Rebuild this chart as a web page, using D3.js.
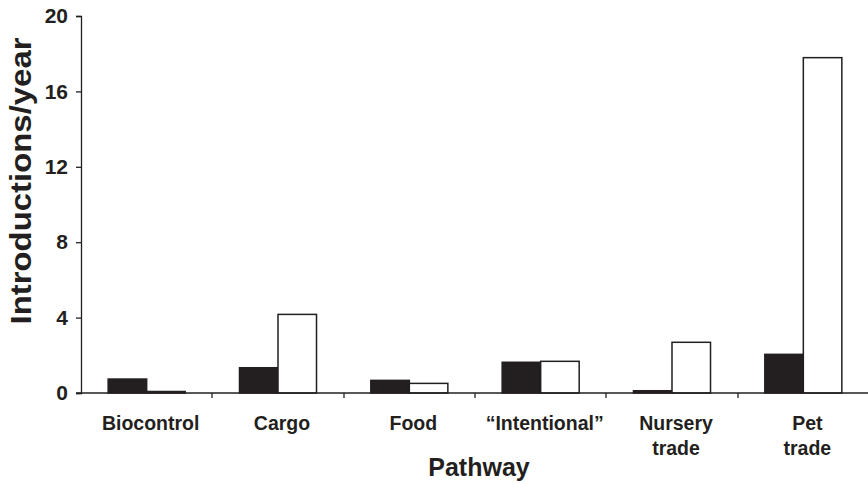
<!DOCTYPE html>
<html>
<head>
<meta charset="utf-8">
<script src="https://cdn.jsdelivr.net/npm/d3@7"></script>
<style>
  body { margin: 0; background: #fff; }
  svg text { font-family: "Liberation Sans", Arial, sans-serif; font-weight: bold; fill: #231f20; }
</style>
</head>
<body>
<svg id="chart" width="868" height="484"></svg>
<script>
const pathways = ['Biocontrol', 'Cargo', 'Food', '\u201cIntentional\u201d', 'Nursery\ntrade', 'Pet\ntrade']
const seriesNames = ['dark', 'light']
const darkValues = [0.74, 1.34, 0.67, 1.63, 0.12, 2.05]
const lightValues = [0.08, 4.17, 0.51, 1.68, 2.69, 17.79]
const yTicks = [0, 4, 8, 12, 16, 20]

const ink = '#231f20'
const margin = { left: 81, right: 0, top: 16, bottom: 91 }
const width = 868, height = 484

let svg = d3.select('#chart')

let x = d3.scaleBand()
  .domain(pathways)
  .range([margin.left, 869])
  .paddingInner(0)
  .paddingOuter(0)

let x1 = d3.scaleBand()
  .domain(seriesNames)
  .range([0, x.bandwidth()])
  .paddingInner(0)
  .paddingOuter(0.705)

let y = d3.scaleLinear()
  .domain([0, 20])
  .range([height - margin.bottom, margin.top])

let rows = pathways.map((p, i) => ({ pathway: p, dark: darkValues[i], light: lightValues[i] }))

// bars
let groups = svg.append('g').selectAll('g')
  .data(rows)
  .enter()
  .append('g')
  .attr('transform', d => 'translate(' + x(d.pathway) + ',0)')

groups.selectAll('rect')
  .data(d => seriesNames.map(s => ({ key: s, value: d[s] })))
  .enter()
  .append('rect')
  .attr('x', d => x1(d.key))
  .attr('width', x1.bandwidth())
  .attr('y', d => y(d.value))
  .attr('height', d => y(0) - y(d.value))
  .attr('fill', d => d.key === 'dark' ? ink : '#fff')
  .attr('stroke', ink)
  .attr('stroke-width', 1.5)

// y axis
let yAxis = svg.append('g')
  .attr('transform', 'translate(' + margin.left + ',0)')
  .call(d3.axisLeft(y).tickValues(yTicks).tickSize(5).tickPadding(8))

yAxis.select('.domain').attr('stroke', ink).attr('stroke-width', 1.3)
yAxis.selectAll('.tick line').attr('stroke', ink).attr('stroke-width', 1.3)
yAxis.selectAll('.tick text')
  .attr('font-size', 21)
  .attr('fill', ink)
  .attr('font-family', '"Liberation Sans", Arial, sans-serif')

// x axis line
svg.append('line')
  .attr('x1', margin.left - 5)
  .attr('x2', width)
  .attr('y1', y(0))
  .attr('y2', y(0))
  .attr('stroke', ink)
  .attr('stroke-width', 1.3)

// category boundary ticks
svg.append('g').selectAll('line')
  .data(pathways.slice(1))
  .enter()
  .append('line')
  .attr('x1', d => Math.round(x(d)))
  .attr('x2', d => Math.round(x(d)))
  .attr('y1', y(0))
  .attr('y2', y(0) + 5)
  .attr('stroke', ink)
  .attr('stroke-width', 1.3)

// category labels
let labels = svg.append('g').selectAll('text')
  .data(pathways)
  .enter()
  .append('text')
  .attr('x', d => x(d) + x.bandwidth() / 2 + 4)
  .attr('y', 430)
  .attr('text-anchor', 'middle')
  .attr('font-size', 19.5)

labels.selectAll('tspan')
  .data(d => d.split('\n'))
  .enter()
  .append('tspan')
  .attr('x', function () { return d3.select(this.parentNode).attr('x') })
  .attr('dy', (d, i) => i === 0 ? 0 : 25)
  .text(d => d)

// axis titles
svg.append('text')
  .attr('x', 479)
  .attr('y', 476)
  .attr('text-anchor', 'middle')
  .attr('font-size', 25)
  .text('Pathway')

svg.append('text')
  .attr('transform', 'translate(31,' + 181 + ') rotate(-90)')
  .attr('text-anchor', 'middle')
  .attr('font-size', 29)
  .attr('textLength', 287)
  .attr('lengthAdjust', 'spacingAndGlyphs')
  .text('Introductions/year')
</script>
</body>
</html>
